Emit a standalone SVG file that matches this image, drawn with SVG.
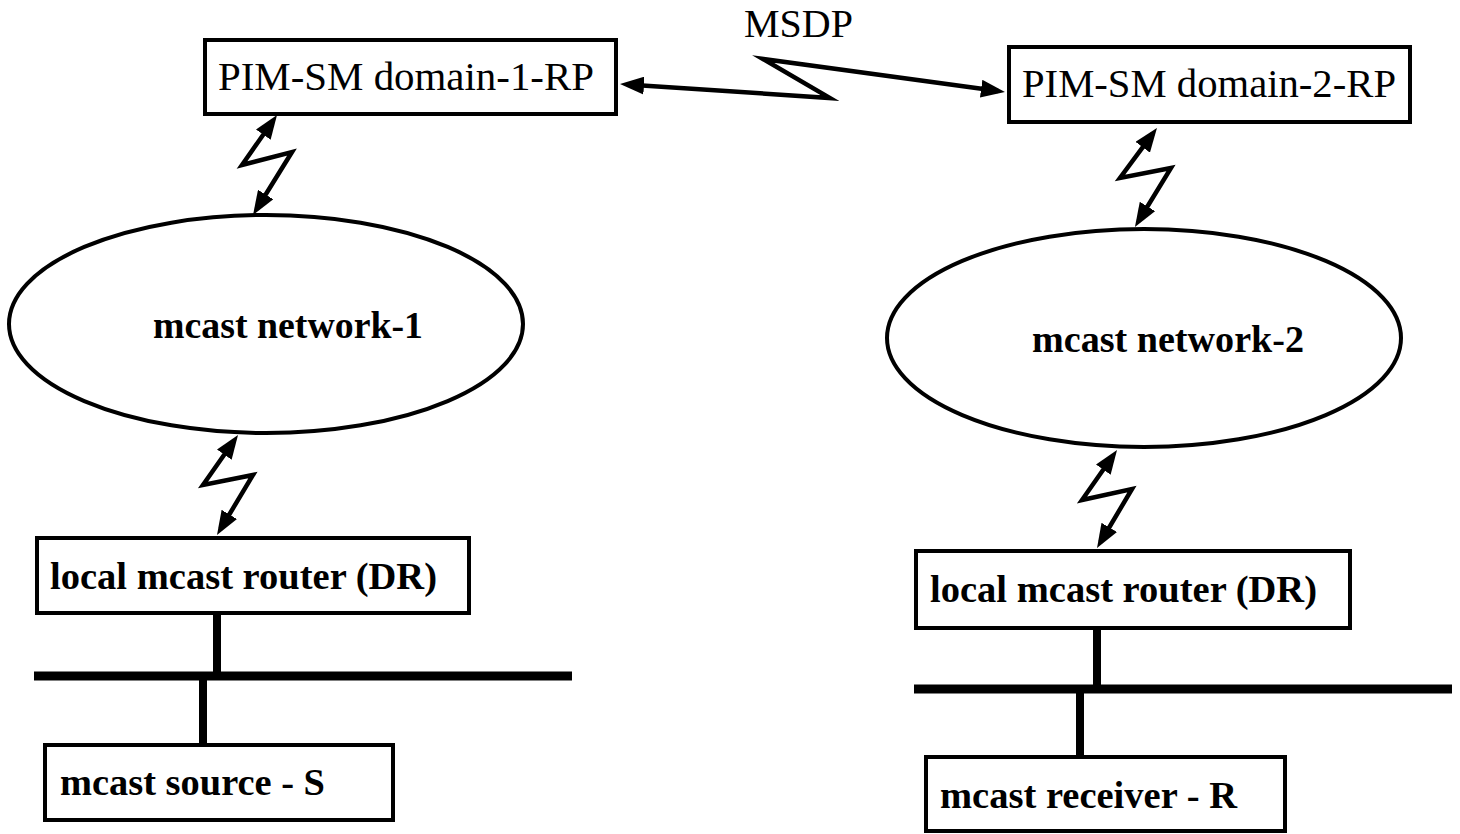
<svg xmlns="http://www.w3.org/2000/svg" width="1460" height="834" viewBox="0 0 1460 834">
<style>
.box{fill:#fff;stroke:#000;stroke-width:4}
.ell{fill:#fff;stroke:#000;stroke-width:4}
.t{font-family:"Liberation Serif","Times New Roman",serif;fill:#000}
.r{font-size:40px;font-weight:normal}
.b{font-size:38px;font-weight:bold}
.wire{fill:none;stroke:#000;stroke-width:4.5;stroke-linejoin:miter;stroke-miterlimit:8;marker-start:url(#ah);marker-end:url(#ah)}
.bus{stroke:#000;stroke-width:9;fill:none}
.stem{stroke:#000;stroke-width:8;fill:none}
</style>
<defs>
<marker id="ah" markerUnits="userSpaceOnUse" markerWidth="24" markerHeight="18" refX="17" refY="9" orient="auto-start-reverse">
<path d="M0,0 L24,9 L0,18 z" fill="#000"/>
</marker>
</defs>
<rect width="1460" height="834" fill="#fff"/>
<g id="connectors">
<polyline class="wire" points="627,84.5 830,98 763,59 998,91"/>
<polyline class="wire" points="273,120.7 242,165 292,152 256.7,209"/>
<polyline class="wire" points="234,440.7 203,485 253,475 220.6,529"/>
<polyline class="wire" points="1152.8,133.6 1120,178 1171,168 1138.6,221"/>
<polyline class="wire" points="1113,455.7 1082,500 1132,489 1100.6,542"/>
<line class="stem" x1="217" y1="613" x2="217" y2="676"/>
<line class="stem" x1="203" y1="676" x2="203" y2="745"/>
<line class="stem" x1="1097" y1="628" x2="1097" y2="689"/>
<line class="stem" x1="1080" y1="689" x2="1080" y2="757"/>
</g>
<g id="bus-1"><line class="bus" x1="34" y1="676" x2="572" y2="676"/></g>
<g id="bus-2"><line class="bus" x1="914" y1="689" x2="1452" y2="689"/></g>
<g id="msdp-label"><text class="t r" x="744" y="37">MSDP</text></g>
<g id="rp1">
<rect class="box" x="205" y="40" width="411" height="74"/>
<text class="t r" x="218" y="90" textLength="376" lengthAdjust="spacingAndGlyphs">PIM-SM domain-1-RP</text>
</g>
<g id="rp2">
<rect class="box" x="1009" y="47" width="401" height="75"/>
<text class="t r" x="1022" y="97" textLength="374" lengthAdjust="spacingAndGlyphs">PIM-SM domain-2-RP</text>
</g>
<g id="net1">
<ellipse class="ell" cx="266" cy="324" rx="257" ry="109"/>
<text class="t b" x="153" y="338" textLength="270" lengthAdjust="spacingAndGlyphs">mcast network-1</text>
</g>
<g id="net2">
<ellipse class="ell" cx="1144" cy="338" rx="257" ry="109"/>
<text class="t b" x="1032" y="352" textLength="272" lengthAdjust="spacingAndGlyphs">mcast network-2</text>
</g>
<g id="dr1">
<rect class="box" x="37" y="538" width="432" height="75"/>
<text class="t b" x="50" y="589" textLength="387" lengthAdjust="spacingAndGlyphs">local mcast router (DR)</text>
</g>
<g id="dr2">
<rect class="box" x="916" y="551" width="434" height="77"/>
<text class="t b" x="930" y="602" textLength="387" lengthAdjust="spacingAndGlyphs">local mcast router (DR)</text>
</g>
<g id="source">
<rect class="box" x="45" y="745" width="348" height="75"/>
<text class="t b" x="60" y="795" textLength="265" lengthAdjust="spacingAndGlyphs">mcast source - S</text>
</g>
<g id="receiver">
<rect class="box" x="926" y="757" width="359" height="74"/>
<text class="t b" x="940" y="808" textLength="297" lengthAdjust="spacingAndGlyphs">mcast receiver - R</text>
</g>
</svg>
